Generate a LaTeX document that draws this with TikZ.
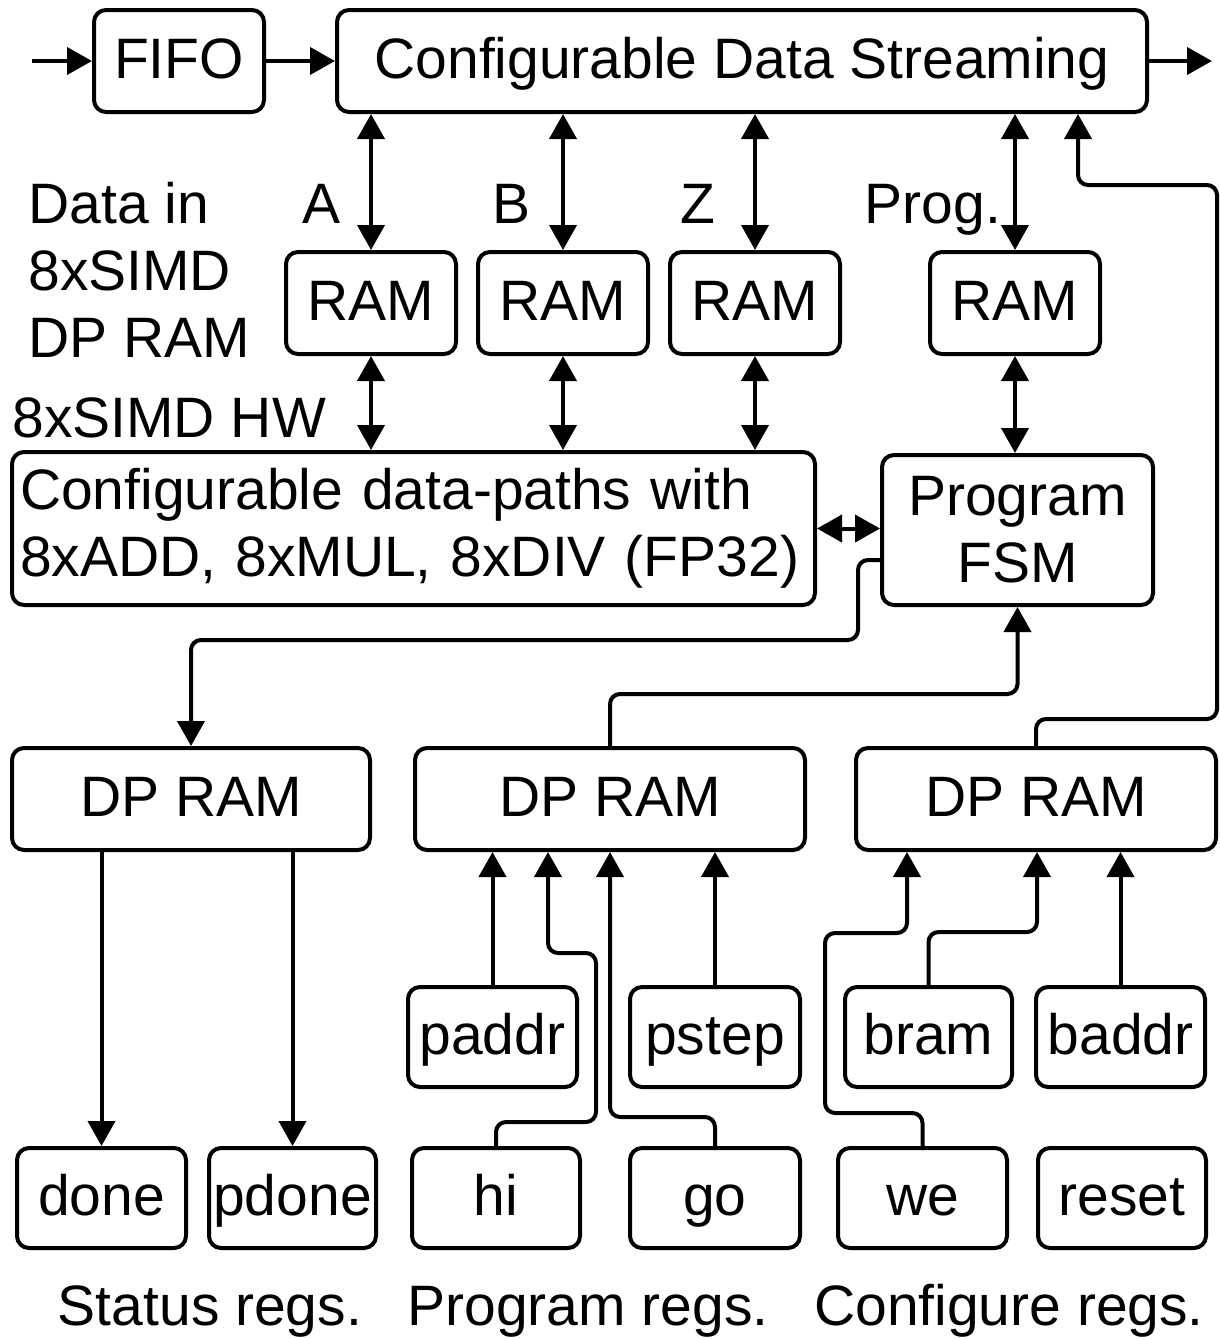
\documentclass[tikz,border=0pt]{standalone}
\usepackage{fontspec}
\setmainfont{Liberation Sans}
\usetikzlibrary{arrows.meta, calc}

\tikzset{
  box/.style={draw, line width=2pt, rounded corners=6pt, inner sep=0pt, minimum height=51pt},
  cell/.style={box, text height=20.5pt, text depth=3.5pt},
  lbl/.style={inner sep=0pt, anchor=base},
  arr/.style={line width=2pt, rounded corners=5pt, -{Triangle[length=12.5pt,width=13.5pt]}},
  dbl/.style={line width=2pt, {Triangle[length=12.5pt,width=13.5pt]}-{Triangle[length=12.5pt,width=13.5pt]}}
}

\begin{document}
\begin{tikzpicture}[x=0.5pt, y=-0.5pt, font=\fontsize{28.5}{33.5}\selectfont]
			\useasboundingbox (0,0) rectangle (1220,1339);
			% Streaming path
			\node[cell, minimum width=85pt] (fifo) at (179,61) {FIFO};
			\node[cell, minimum width=405pt] (cds) at (742,61) {Configurable Data Streaming};
			\coordinate (in) at (32,61);
			\coordinate (out) at (1212,61);
			\draw[arr] (in) -- (fifo.west);
			\draw[arr] (fifo.east) -- (cds.west);
			\draw[arr] (cds.east) -- (out);
			% Data RAMs
			\node[cell, minimum width=85pt] (ramA) at (371,303) {RAM};
			\node[cell, minimum width=85pt] (ramB) at (563,303) {RAM};
			\node[cell, minimum width=85pt] (ramZ) at (755,303) {RAM};
			\node[cell, minimum width=85pt] (ramP) at (1015,303) {RAM};
			\node[lbl] (labA) at (322,223) {A};
			\node[lbl] (labB) at (512,223) {B};
			\node[lbl] (labZ) at (698,223) {Z};
			\node[lbl] (labP) at (933,223) {Prog.};
			\node[lbl, anchor=base west] (info1) at (28,223) {Data in};
			\node[lbl, anchor=base west] (info2) at (28,290) {8xSIMD};
			\node[lbl, anchor=base west] (info3) at (28,357) {DP RAM};
			\node[lbl, anchor=base west] (hw) at (12,437) {8xSIMD HW};
			% Data-paths and FSM
			\node[box, minimum height=76.5pt, inner xsep=4pt, text width=393.5pt, align=left] (dpath) at (413.5,528.5)
				{Configurable data-paths with\\8xADD, 8xMUL, 8xDIV (FP32)};
			\node[box, minimum width=135.5pt, minimum height=75pt, align=center] (fsm) at (1017.5,530) {Program\\FSM};
			\foreach \r in {ramA, ramB, ramZ, ramP}
			\draw[dbl] (\r.north) -- (\r.north |- cds.south);
			\foreach \r in {ramA, ramB, ramZ}
			\draw[dbl] (\r.south) -- (\r.south |- dpath.north);
			\draw[dbl] (ramP.south) -- (ramP.south |- fsm.north);
			\draw[dbl] (dpath.east) -- (dpath.east -| fsm.west);
			% Register RAMs
			\node[cell, minimum width=179pt] (dp1) at (191,799) {DP RAM};
			\node[cell, minimum width=195pt] (dp2) at (610,799) {DP RAM};
			\node[cell, minimum width=180pt] (dp3) at (1036,799) {DP RAM};
			\draw[arr] ($(fsm.west)+(0,30)$) -| (858,640) -| (dp1.north);
			\draw[arr] (dp2.north) -- ++(0,-52) -| (fsm.south);
			\draw[arr] (dp3.north) -- ++(0,-27) -| (1217,185) -| (1078,0 |- cds.south);
			% Registers
			\node[cell, minimum width=84.5pt, minimum height=50pt] (paddr) at (492.5,1037) {paddr};
			\node[cell, minimum width=85pt, minimum height=50pt] (pstep) at (715,1037) {pstep};
			\node[cell, minimum width=83.5pt, minimum height=50pt] (bram) at (928.5,1037) {bram};
			\node[cell, minimum width=84.5pt, minimum height=50pt] (baddr) at (1120.5,1037) {baddr};
			\node[cell, minimum width=84.5pt, minimum height=50pt] (done) at (101.5,1198) {done};
			\node[cell, minimum width=83.5pt, minimum height=50pt] (pdone) at (292.5,1198) {pdone};
			\node[cell, minimum width=84pt, minimum height=50pt] (hi) at (496,1198) {hi};
			\node[cell, minimum width=85pt, minimum height=50pt] (go) at (715,1198) {go};
			\node[cell, minimum width=84.5pt, minimum height=50pt] (we) at (922.5,1198) {we};
			\node[cell, minimum width=84pt, minimum height=50pt] (reset) at (1122,1198) {reset};
			% Status regs
			\draw[arr] (dp1.south -| done.north) -- (done.north);
			\draw[arr] (dp1.south -| pdone.north) -- (pdone.north);
			% Program regs
			\draw[arr] (paddr.north) -- (paddr.north |- dp2.south);
			\draw[arr] (hi.north) |- (596,1122) |- (548,953) -- (548,0 |- dp2.south);
			\draw[arr] (go.north) |- (610,1117) -- (610,0 |- dp2.south);
			\draw[arr] (pstep.north) -- (pstep.north |- dp2.south);
			% Configure regs
			\draw[arr] (we.north) |- (825,1113) |- (907,933) -- (907,0 |- dp3.south);
			\draw[arr] (bram.north) |- (1037,932) -- (1037,0 |- dp3.south);
			\draw[arr] (baddr.north) -- (baddr.north |- dp3.south);
			% Group labels
			\node[lbl] (stat) at (210,1325) {Status regs.};
			\node[lbl] (prog) at (588,1325) {Program regs.};
			\node[lbl] (conf) at (1009,1325) {Configure regs.};
		\end{tikzpicture}
\end{document}
